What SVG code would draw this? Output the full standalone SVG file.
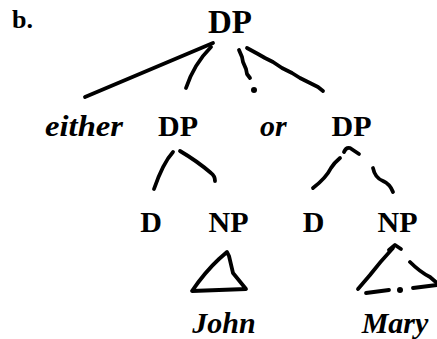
<svg xmlns="http://www.w3.org/2000/svg" width="437" height="339" viewBox="0 0 437 339">
<style>
.cat{font-family:"Liberation Serif","Times New Roman",serif;font-weight:bold;fill:#000}
.it{font-family:"Liberation Serif","Times New Roman",serif;font-weight:bold;font-style:italic;fill:#000}
.ln{fill:none;stroke:#000;stroke-width:3.8;stroke-linecap:round;stroke-linejoin:round}
.dot{fill:#000}
</style>
<rect width="437" height="339" fill="#fff"/>
<g id="label-b"><text class="cat" x="12" y="28" font-size="26">b.</text></g>
<g id="dp-root"><text class="cat" x="230" y="33" font-size="33" text-anchor="middle">DP</text></g>
<g id="either"><text class="it" x="45" y="136" font-size="30" textLength="78" lengthAdjust="spacingAndGlyphs">either</text></g>
<g id="dp-left"><text class="cat" x="178" y="136" font-size="30" text-anchor="middle">DP</text></g>
<g id="or"><text class="it" x="260" y="136" font-size="30">or</text></g>
<g id="dp-right"><text class="cat" x="351.5" y="136" font-size="30" text-anchor="middle">DP</text></g>
<g id="d-left"><text class="cat" x="151" y="232" font-size="30" text-anchor="middle">D</text></g>
<g id="np-left"><text class="cat" x="228.5" y="232" font-size="30" text-anchor="middle">NP</text></g>
<g id="d-right"><text class="cat" x="313.5" y="232" font-size="30" text-anchor="middle">D</text></g>
<g id="np-right"><text class="cat" x="397.5" y="232" font-size="30" text-anchor="middle">NP</text></g>
<g id="john"><text class="it" x="224" y="333" font-size="30" text-anchor="middle">John</text></g>
<g id="mary"><text class="it" x="395" y="333" font-size="30" text-anchor="middle">Mary</text></g>
<g id="connectors">
<path class="ln" d="M213,43 L85,97"/>
<path class="ln" d="M211,47 Q194,64 186,88"/>
<path class="ln" d="M239,50 L242,57 L243,62 L246,69 L247,74 L250,78"/>
<circle class="dot" cx="254" cy="90" r="3"/>
<path class="ln" d="M247,48 L258,54 L265,58 L273,62 L282,68 L292,73 L300,78 L310,83 L318,87 L323,91"/>
<path class="ln" d="M173,152 Q163,163 154,189"/>
<path class="ln" d="M180,151 Q197,161 211,173 Q215,176 215,181"/>
<path class="ln" d="M344,152 Q346,147 350,148 L359,154"/>
<path class="ln" d="M340,158 Q334,163 331,168 Q326,178 313,188"/>
<path class="ln" d="M373,168 Q375,178 383,181 Q390,184 393,192"/>
<path class="ln" d="M192,291 Q205,272 219,259 L227,252 L229,256 L233,273 L246,289 Z"/>
<path class="ln" d="M389,250 L395,245 L401,249"/>
<path class="ln" d="M393,248 Q380,262 370,275 L358,289"/>
<path class="ln" d="M410,262 Q420,272 430,277 L437,283"/>
<path class="ln" d="M366,293 L389,290"/>
<circle class="dot" cx="400" cy="290" r="3"/>
<path class="ln" d="M413,288 L437,285"/>
</g>
</svg>
